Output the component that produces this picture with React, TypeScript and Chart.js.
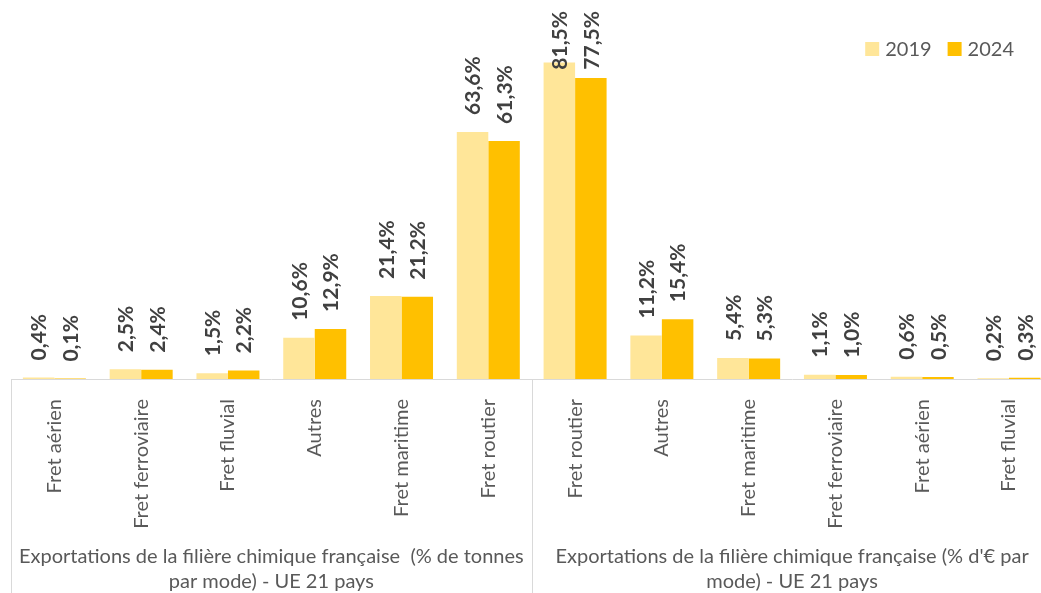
import React, { useEffect, useRef } from "react";
import { Chart, registerables } from "chart.js";

Chart.register(...registerables);

const categories = [
  "Fret aérien",
  "Fret ferroviaire",
  "Fret fluvial",
  "Autres",
  "Fret maritime",
  "Fret routier",
  "Fret routier",
  "Autres",
  "Fret maritime",
  "Fret ferroviaire",
  "Fret aérien",
  "Fret fluvial",
];
const values2019 = [0.4, 2.5, 1.5, 10.6, 21.4, 63.6, 81.5, 11.2, 5.4, 1.1, 0.6, 0.2];
const values2024 = [0.1, 2.4, 2.2, 12.9, 21.2, 61.3, 77.5, 15.4, 5.3, 1.0, 0.5, 0.3];
const seriesLabels = ["2019", "2024"];
const seriesColors = ["#FFE699", "#FFC000"];
const groupLabels = [
  ["Exportations de la filière chimique française  (% de tonnes", "par mode) - UE 21 pays"],
  ["Exportations de la filière chimique française (% d'€ par", "mode) - UE 21 pays"],
];
const groupSize = 6;

const FONT = "Lato";
const TEXT = "#595959";

const valueLabelPlugin = {
  id: "valueLabels",
  afterDatasetsDraw(chart: any) {
    const ctx = chart.ctx;
    const top = chart.chartArea.top;
    ctx.save();
    ctx.font = `bold 21px ${FONT}`;
    ctx.fillStyle = "#404040";
    ctx.textBaseline = "middle";
    ctx.textAlign = "left";
    chart.data.datasets.forEach((ds: any, di: number) => {
      const meta = chart.getDatasetMeta(di);
      meta.data.forEach((bar: any, i: number) => {
        const v = ds.data[i];
        const text = v.toFixed(1).replace(".", ",") + "%";
        const w = ctx.measureText(text).width;
        let start = bar.y - 17;
        if (start - w < top + 1) start = top + 1 + w;
        ctx.save();
        ctx.translate(bar.x + 1, start);
        ctx.rotate(-Math.PI / 2);
        ctx.fillText(text, 0, 0);
        ctx.restore();
      });
    });
    ctx.restore();
  },
};

const groupPlugin = {
  id: "groups",
  afterDraw(chart: any) {
    const ctx = chart.ctx;
    const xs = chart.scales.x;
    const area = chart.chartArea;
    const h = chart.height;
    const nGroups = Math.ceil(categories.length / groupSize);
    const bounds: number[] = [area.left];
    for (let g = 1; g < nGroups; g++) {
      const a = xs.getPixelForValue(g * groupSize - 1);
      const b = xs.getPixelForValue(g * groupSize);
      bounds.push((a + b) / 2);
    }
    bounds.push(area.right);
    ctx.save();
    ctx.strokeStyle = "#d9d9d9";
    ctx.lineWidth = 1;
    bounds.forEach((x) => {
      const px = Math.round(x) + 0.5;
      ctx.beginPath();
      ctx.moveTo(px, area.bottom);
      ctx.lineTo(px, h);
      ctx.stroke();
    });
    ctx.fillStyle = TEXT;
    ctx.font = `20px ${FONT}`;
    ctx.textAlign = "center";
    ctx.textBaseline = "middle";
    for (let g = 0; g < nGroups; g++) {
      const cx = (bounds[g] + bounds[g + 1]) / 2;
      groupLabels[g].forEach((line, li) => {
        ctx.fillText(line, cx, area.bottom + 178 + li * 25);
      });
    }
    ctx.restore();
  },
};

const legendPlugin = {
  id: "customLegend",
  afterDraw(chart: any) {
    const ctx = chart.ctx;
    ctx.save();
    ctx.font = `20px ${FONT}`;
    ctx.textBaseline = "middle";
    ctx.textAlign = "left";
    const box = 14;
    const gap = 6;
    const itemGap = 16;
    const right = 1014;
    const cy = 49;
    const widths = seriesLabels.map((t) => ctx.measureText(t).width);
    let total = 0;
    widths.forEach((w, i) => {
      total += box + gap + w + (i > 0 ? itemGap : 0);
    });
    let x = right - total;
    seriesLabels.forEach((t, i) => {
      if (i > 0) x += itemGap;
      ctx.fillStyle = seriesColors[i];
      ctx.fillRect(x, cy - box / 2, box, box);
      x += box + gap;
      ctx.fillStyle = TEXT;
      ctx.fillText(t, x, cy + 1);
      x += widths[i];
    });
    ctx.restore();
  },
};

export default function App() {
  const ref = useRef<HTMLCanvasElement | null>(null);
  useEffect(() => {
    if (!ref.current) return;
    Chart.defaults.font.family = FONT;
    const chart = new Chart(ref.current, {
      type: "bar",
      data: {
        labels: categories,
        datasets: [
          {
            label: seriesLabels[0],
            data: values2019,
            backgroundColor: seriesColors[0],
            borderWidth: 0,
          },
          {
            label: seriesLabels[1],
            data: values2024,
            backgroundColor: seriesColors[1],
            borderWidth: 0,
          },
        ],
      },
      options: {
        animation: false,
        responsive: false,
        devicePixelRatio: 1,
        datasets: {
          bar: { categoryPercentage: 0.726, barPercentage: 1.0 },
        },
        layout: { padding: { top: 10, left: 11, right: 0, bottom: 64 } },
        plugins: {
          legend: { display: false },
          tooltip: { enabled: false },
          title: { display: false },
        },
        scales: {
          x: {
            grid: { display: false, drawTicks: false },
            border: { display: true, color: "#d9d9d9", width: 1 },
            ticks: {
              autoSkip: false,
              maxRotation: 90,
              minRotation: 90,
              padding: 20,
              color: TEXT,
              font: { family: FONT, size: 20 },
            },
            afterFit: (s: any) => {
              s.height = 150;
            },
          },
          y: {
            display: false,
            min: 0,
            max: 95,
          },
        },
      },
      plugins: [valueLabelPlugin, groupPlugin, legendPlugin],
    } as any);
    return () => chart.destroy();
  }, []);
  return (
    <div
      style={{
        position: "fixed",
        left: 0,
        top: 0,
        width: 1041,
        height: 593,
        overflow: "hidden",
        background: "#fff",
      }}
    >
      <canvas ref={ref} width={1053} height={593} style={{ display: "block" }} />
    </div>
  );
}
